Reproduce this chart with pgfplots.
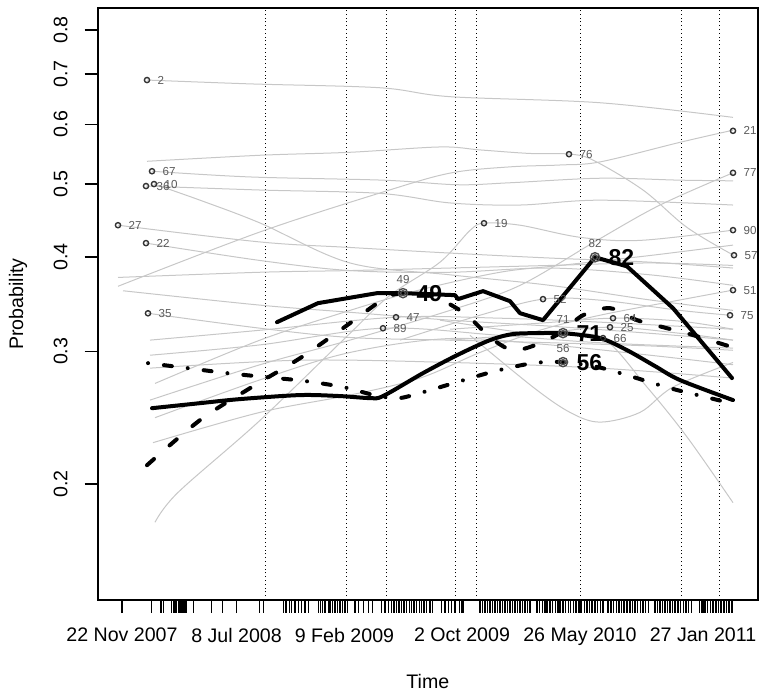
\documentclass[border=0pt]{standalone}
\usepackage{pgfplots}
\pgfplotsset{compat=1.18}
\usepackage{fontspec}
\setmainfont{Liberation Sans}
\tikzset{
  gl/.style={color=black!22, line width=0.5pt, smooth, tension=0.55},
  tl/.style={black, line width=2pt, line cap=round, line join=round},
  vl/.style={black, line width=0.5pt, dash pattern=on 0.5pt off 1.4pt},
}
\begin{document}
\begin{tikzpicture}
\begin{axis}[
  scale only axis, width=330.15pt, height=296pt,
  ymode=log, xmin=-48.6, xmax=1272, ymin=0.1404, ymax=0.856,
  axis line style={line width=1pt},
  tick pos=left, tick align=outside, major tick length=6.5pt,
  every tick/.style={black, line width=0.7pt},
  xtick={0,229,445,680,916,1162},
  xticklabels={22 Nov 2007, 8 Jul 2008, 9 Feb 2009, 2 Oct 2009, 26 May 2010, 27 Jan 2011},
  ytick={0.2,0.3,0.4,0.5,0.6,0.7,0.8},
  yticklabels={0.2,0.3,0.4,0.5,0.6,0.7,0.8},
  minor ytick={},
  /pgf/number format/assume math mode=true,
  ticklabel style={font=\fontsize{9.8}{11.5}\selectfont},
  yticklabel style={rotate=90, anchor=south},
  xticklabel style={anchor=north},
  yticklabel shift=5pt,
  xticklabel shift=4pt,
  xlabel={Time}, ylabel={Probability},
  label style={font=\fontsize{9.8}{11.5}\selectfont},
  xlabel style={at={(axis description cs:0.5,-0.1377)}, anchor=center},
  ylabel style={at={(axis description cs:-0.1207,0.5)}, anchor=center},
  clip=false,
]
% vertical dotted lines
\addplot[vl] coordinates {(286,0.1404)(286,0.856)};
\addplot[vl] coordinates {(448,0.1404)(448,0.856)};
\addplot[vl] coordinates {(528,0.1404)(528,0.856)};
\addplot[vl] coordinates {(666,0.1404)(666,0.856)};
\addplot[vl] coordinates {(708,0.1404)(708,0.856)};
\addplot[vl] coordinates {(916,0.1404)(916,0.856)};
\addplot[vl] coordinates {(1118,0.1404)(1118,0.856)};
\addplot[vl] coordinates {(1194,0.1404)(1194,0.856)};
% gray individual trajectories
\addplot[gl] coordinates {(50,0.687)(256,0.679)(516,0.671)(656,0.653)(956,0.641)(1222,0.613)};
\addplot[gl] coordinates {(50,0.536)(276,0.546)(456,0.551)(636,0.560)(716,0.555)(816,0.549)(894,0.548)(942,0.538)(1042,0.491)(1130,0.438)(1224,0.402)};
\addplot[gl] coordinates {(60,0.520)(256,0.511)(522,0.506)(670,0.499)(776,0.502)(956,0.509)(1116,0.506)(1222,0.505)};
\addplot[gl] coordinates {(48,0.497)(276,0.491)(516,0.486)(656,0.472)(796,0.469)(956,0.476)(1222,0.469)};
\addplot[gl] coordinates {(64,0.500)(156,0.476)(276,0.444)(456,0.393)(656,0.379)(856,0.367)(1056,0.351)(1222,0.340)};
\addplot[gl] coordinates {(-8,0.441)(276,0.419)(456,0.412)(656,0.405)(856,0.399)(1056,0.394)(1222,0.387)};
\addplot[gl] coordinates {(48,0.4175)(276,0.396)(456,0.384)(656,0.382)(856,0.387)(1056,0.379)(1222,0.367)};
\addplot[gl] coordinates {(-8,0.376)(276,0.382)(456,0.384)(656,0.387)(856,0.390)(1056,0.393)(1222,0.390)};
\addplot[gl] coordinates {(-8,0.366)(276,0.432)(522,0.488)(656,0.517)(776,0.527)(876,0.530)(956,0.535)(1116,0.568)(1222,0.5895)};
\addplot[gl] coordinates {(52,0.337)(276,0.322)(456,0.313)(656,0.3105)(856,0.308)(1056,0.305)(1222,0.301)};
\addplot[gl] coordinates {(2,0.361)(276,0.3455)(456,0.338)(656,0.330)(856,0.324)(1056,0.317)(1222,0.3105)};
\addplot[gl] coordinates {(66,0.178)(112,0.195)(276,0.243)(456,0.317)(536,0.356)(636,0.394)(696,0.434)(724,0.4437)(796,0.441)(916,0.425)(1036,0.421)(1222,0.4344)};
\addplot[gl] coordinates {(66,0.272)(276,0.3105)(456,0.340)(596,0.362)(756,0.382)(876,0.390)(1056,0.402)(1222,0.415)};
\addplot[gl] coordinates {(56,0.2585)(276,0.288)(456,0.3105)(656,0.340)(796,0.367)(950,0.421)(1076,0.469)(1222,0.5175)};
\addplot[gl] coordinates {(62,0.227)(276,0.249)(456,0.2625)(596,0.2765)(716,0.299)(836,0.320)(956,0.335)(1116,0.351)(1222,0.3617)};
\addplot[gl] coordinates {(56,0.3105)(276,0.320)(548,0.333)(756,0.332)(956,0.328)(1222,0.321)};
\addplot[gl] coordinates {(56,0.2965)(276,0.306)(522,0.322)(756,0.315)(956,0.308)(1222,0.303)};
\addplot[gl] coordinates {(556,0.3105)(716,0.335)(842,0.3519)(956,0.3508)(1116,0.340)(1216,0.335)};
\addplot[gl] coordinates {(656,0.321)(836,0.327)(982,0.3320)(1116,0.329)(1222,0.321)};
\addplot[gl] coordinates {(656,0.3105)(836,0.317)(976,0.3230)(1116,0.317)(1222,0.3105)};
\addplot[gl] coordinates {(636,0.330)(796,0.318)(876,0.315)(962,0.3124)(1050,0.269)(1130,0.231)(1222,0.189)};
\addplot[gl] coordinates {(696,0.315)(822,0.269)(896,0.249)(956,0.2417)(1036,0.249)(1102,0.269)(1222,0.290)};
\addplot[gl] coordinates {(66,0.245)(276,0.275)(456,0.299)(656,0.312)(856,0.306)(1056,0.2965)(1222,0.288)};
\addplot[gl] coordinates {(56,0.285)(356,0.292)(656,0.290)(956,0.285)(1222,0.2765)};
% thick summary lines
\addplot[tl] coordinates {(310,0.328)(392,0.3476)(510,0.3584)(562,0.3584)(666,0.3562)(672,0.3519)(722,0.3606)(776,0.3497)(796,0.3371)(842,0.3300)(946,0.3999)(1010,0.3890)(1102,0.3423)(1156,0.3105)(1220,0.2765)};
\addplot[tl, smooth, tension=0.5] coordinates {(60,0.2522)(156,0.2561)(236,0.2593)(356,0.2625)(436,0.2617)(496,0.2601)(522,0.2617)(602,0.2807)(670,0.2965)(736,0.3105)(782,0.3163)(836,0.3172)(882,0.3172)(956,0.3124)(1010,0.3011)(1066,0.2868)(1116,0.2748)(1222,0.2585)};
\addplot[tl, smooth, tension=0.5, dash pattern=on 4.7pt off 10.3pt] coordinates {(50,0.2119)(156,0.2432)(256,0.2681)(356,0.2938)(442,0.3220)(526,0.3530)(562,0.3584)(596,0.3584)(640,0.3508)(690,0.3350)(736,0.3133)(780,0.3011)(826,0.3057)(876,0.3172)(922,0.3350)(976,0.3423)(1030,0.3300)(1090,0.3220)(1142,0.3153)(1220,0.3039)};
\addplot[tl, smooth, tension=0.5, dash pattern=on 0.01pt off 8pt on 4pt off 8pt] coordinates {(52,0.2894)(130,0.2851)(210,0.2807)(286,0.2774)(366,0.2740)(442,0.2690)(496,0.2633)(526,0.2609)(556,0.2601)(596,0.2641)(670,0.2731)(746,0.2824)(822,0.2894)(882,0.2903)(952,0.2859)(1016,0.2782)(1096,0.2681)(1176,0.2601)(1216,0.2561)};
% labelled points
\addplot[only marks, mark=o, mark size=1.3pt, black!80, mark options={line width=0.7pt},
  point meta=explicit symbolic, nodes near coords,
  every node near coord/.append style={anchor=west, xshift=5pt, inner sep=0pt, font=\fontsize{5.8}{6.5}\selectfont, text=black!65}]
  table[meta=lab] {
x y lab
50 0.687 2
60 0.520 67
48 0.497 36
64 0.500 10
-8 0.441 27
48 0.4175 22
52 0.337 35
724 0.4437 19
548 0.333 47
522 0.322 89
894 0.5478 76
842 0.3519 52
982 0.3320 64
976 0.3230 25
962 0.3124 66
1222 0.5883 21
1222 0.5175 77
1222 0.4344 90
1224 0.4024 57
1222 0.3617 51
1216 0.3350 75
};
% highlighted summary points
\addplot[only marks, mark=o, mark size=2.3pt, black!70, mark options={line width=0.7pt},
  point meta=explicit symbolic, nodes near coords,
  every node near coord/.append style={anchor=south, yshift=4.5pt, inner sep=0pt, font=\fontsize{5.8}{6.5}\selectfont, text=black!65}]
  table[meta=lab] {
x y lab
562 0.3584 49
946 0.3999 82
882 0.3172 71
882 0.2903 56
};
\addplot[only marks, mark=o, mark size=1.2pt, black!70, mark options={line width=0.7pt},
  point meta=explicit symbolic, nodes near coords,
  every node near coord/.append style={anchor=west, xshift=6.5pt, inner sep=0pt, font=\fontsize{11.5}{13}\selectfont\bfseries, text=black}]
  table[meta=lab] {
x y lab
562 0.3584 49
946 0.3999 82
882 0.3172 71
882 0.2903 56
};
% rug of observation times
\addplot[only marks, mark=|, mark size=3.25pt, black, mark options={line width=0.7pt, yshift=-3.25pt}] coordinates {
(59,0.1404)(78,0.1404)(83,0.1404)(99,0.1404)(104,0.1404)(108,0.1404)(113,0.1404)(116,0.1404)(120,0.1404)(124,0.1404)(128,0.1404)(143,0.1404)(179,0.1404)(201,0.1404)(275,0.1404)(283,0.1404)
(323,0.1404)(328,0.1404)(335,0.1404)(339,0.1404)(346,0.1404)(353,0.1404)(359,0.1404)(366,0.1404)(373,0.1404)
(393,0.1404)(397,0.1404)(401,0.1404)(406,0.1404)(413,0.1404)(416,0.1404)(421,0.1404)(426,0.1404)(431,0.1404)(436,0.1404)(441,0.1404)(446,0.1404)(451,0.1404)
(466,0.1404)(473,0.1404)(483,0.1404)(493,0.1404)(501,0.1404)
(519,0.1404)(526,0.1404)(533,0.1404)(539,0.1404)(544,0.1404)(549,0.1404)(554,0.1404)(559,0.1404)(564,0.1404)(569,0.1404)(575,0.1404)(579,0.1404)(584,0.1404)(589,0.1404)(595,0.1404)(599,0.1404)(604,0.1404)(609,0.1404)(616,0.1404)(621,0.1404)
(639,0.1404)(646,0.1404)(653,0.1404)(659,0.1404)(666,0.1404)(675,0.1404)(683,0.1404)
(716,0.1404)(721,0.1404)(726,0.1404)(731,0.1404)(736,0.1404)(741,0.1404)(746,0.1404)(751,0.1404)(756,0.1404)(761,0.1404)(766,0.1404)(771,0.1404)(776,0.1404)(781,0.1404)(786,0.1404)(791,0.1404)(796,0.1404)(801,0.1404)(806,0.1404)(811,0.1404)(816,0.1404)
(830,0.1404)(835,0.1404)(841,0.1404)(846,0.1404)(850,0.1404)(856,0.1404)(861,0.1404)(867,0.1404)(872,0.1404)(876,0.1404)(882,0.1404)(887,0.1404)(893,0.1404)(897,0.1404)(903,0.1404)(908,0.1404)(913,0.1404)(919,0.1404)(925,0.1404)(930,0.1404)(935,0.1404)(940,0.1404)(946,0.1404)(951,0.1404)(957,0.1404)(962,0.1404)(972,0.1404)(978,0.1404)(983,0.1404)(989,0.1404)(994,0.1404)(999,0.1404)(1004,0.1404)(1010,0.1404)(1016,0.1404)(1021,0.1404)(1026,0.1404)(1031,0.1404)(1037,0.1404)(1042,0.1404)(1047,0.1404)(1053,0.1404)(1066,0.1404)(1071,0.1404)(1076,0.1404)(1081,0.1404)(1086,0.1404)(1091,0.1404)(1096,0.1404)(1101,0.1404)(1106,0.1404)(1112,0.1404)(1117,0.1404)(1123,0.1404)(1128,0.1404)(1133,0.1404)(1139,0.1404)(1155,0.1404)(1160,0.1404)(1166,0.1404)(1171,0.1404)(1177,0.1404)(1182,0.1404)(1188,0.1404)(1193,0.1404)(1198,0.1404)(1204,0.1404)(1209,0.1404)(1214,0.1404)(1220,0.1404)
};
\end{axis}
\pgfresetboundingbox
\path[use as bounding box] ([xshift=-48.85pt,yshift=-45pt]current axis.south west) rectangle ([xshift=0.5pt,yshift=4pt]current axis.north east);
\end{tikzpicture}
\end{document}
